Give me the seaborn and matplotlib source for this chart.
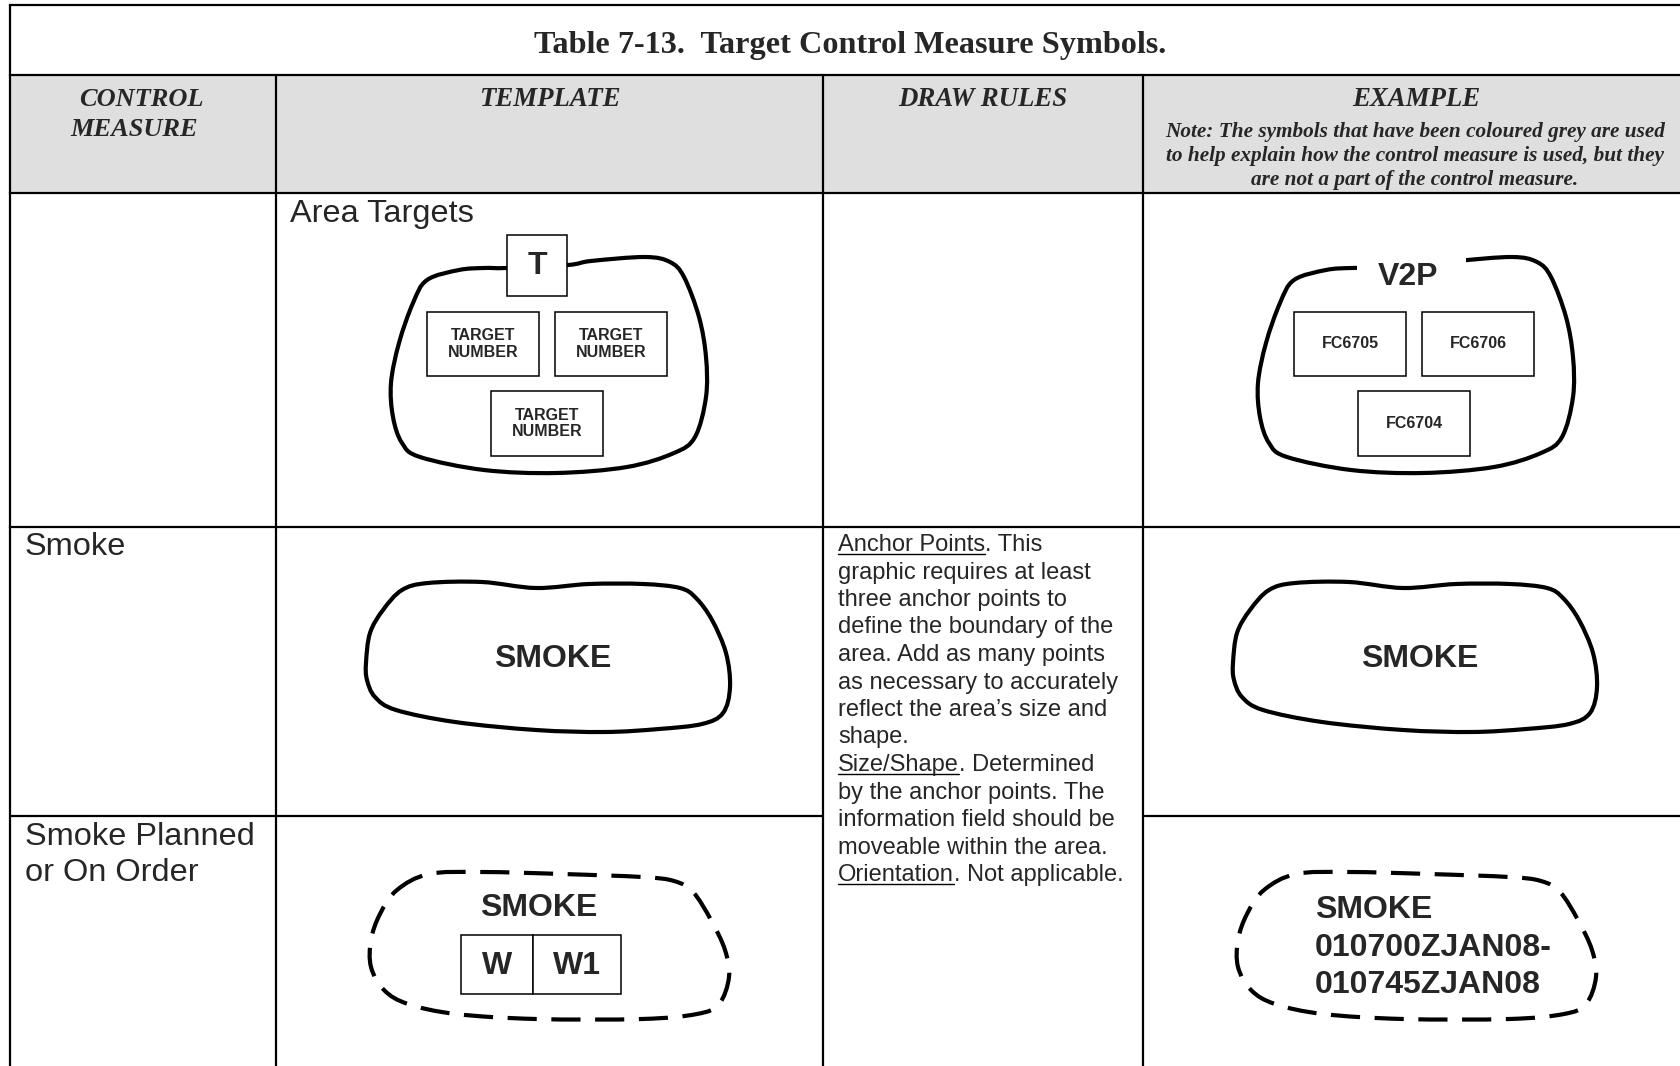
import numpy as np
import matplotlib
matplotlib.use("Agg")
import matplotlib.pyplot as plt
from matplotlib.path import Path
from matplotlib.patches import PathPatch, Rectangle
import seaborn as sns

sns.set_theme(style="white")
plt.rcParams['font.family'] = ['Liberation Sans', 'DejaVu Sans']

# ---- table text ----
title = "Table 7-13.  Target Control Measure Symbols."
header_measure = ["CONTROL", "MEASURE"]
headers = ["TEMPLATE", "DRAW RULES", "EXAMPLE"]
note_lines = ["Note: The symbols that have been coloured grey are used",
              "to help explain how the control measure is used, but they",
              "are not a part of the control measure."]
measures = ["Smoke", "Smoke Planned\nor On Order"]
area_label = "Area Targets"
template_boxes = ["TARGET\nNUMBER", "TARGET\nNUMBER", "TARGET\nNUMBER"]
example_boxes = ["FC6705", "FC6706", "FC6704"]
area_template_tag = "T"
area_example_tag = "V2P"
smoke_label = "SMOKE"
planned_fields = ["W", "W1"]
planned_example = ["SMOKE", "010700ZJAN08-", "010745ZJAN08"]
draw_rules = [
    [("Anchor Points", True), (". This", False)],
    [("graphic requires at least", False)],
    [("three anchor points to", False)],
    [("define the boundary of the", False)],
    [("area. Add as many points", False)],
    [("as necessary to accurately", False)],
    [("reflect the area\u2019s size and", False)],
    [("shape.", False)],
    [("Size/Shape", True), (". Determined", False)],
    [("by the anchor points. The", False)],
    [("information field should be", False)],
    [("moveable within the area.", False)],
    [("Orientation", True), (". Not applicable.", False)],
]

# ---- outline anchor points (template column) ----
area_outline = [(427, 280), (459, 270), (484, 268), (507, 268), (568, 265), (591, 261),
                (645, 257), (670, 262), (684, 277), (699, 317), (706, 357), (706, 397),
                (695, 437), (674, 453), (627, 467), (556, 473), (484, 470), (420, 457),
                (402, 443), (393, 417), (391, 383), (399, 343), (413, 303)]
smoke_outline = [(366, 663), (370, 633), (383, 610), (402, 590), (428, 583), (482, 582),
                 (536, 588), (589, 584), (643, 584), (680, 588), (696, 598), (712, 620),
                 (726, 653), (730, 687), (723, 713), (702, 724), (659, 729), (605, 732),
                 (536, 730), (455, 722), (396, 710), (375, 697), (367, 680)]
planned_outline = [(397, 890), (429, 874), (482, 872), (562, 874), (642, 877), (674, 881),
                   (693, 892), (711, 920), (725, 950), (729, 977), (719, 1004), (697, 1014),
                   (642, 1019), (536, 1019), (456, 1014), (408, 1004), (384, 990), (371, 967),
                   (371, 940), (380, 914)]
EX_SHIFT = 867

COLS = [10, 275.7, 823.3, 1142.7, 1690]
ROWS = [5, 75, 193, 526.5, 816, 1070]

SERIF = 'Liberation Serif'
SANS = 'Liberation Sans'


def smooth_closed(pts, dx=0):
    P = np.asarray(pts, float) + np.array([dx, 0])
    n = len(P)
    verts = [P[0]]
    codes = [Path.MOVETO]
    for i in range(n):
        p0, p1, p2, p3 = P[i - 1], P[i], P[(i + 1) % n], P[(i + 2) % n]
        verts += [p1 + (p2 - p0) / 6, p2 - (p3 - p1) / 6, p2]
        codes += [Path.CURVE4] * 3
    return Path(verts, codes)


def outline(ax, pts, dx=0, dashed=False):
    ls = (0, (7.0, 3.5)) if dashed else '-'
    ax.add_patch(PathPatch(smooth_closed(pts, dx), facecolor='none', edgecolor='black',
                           lw=3.0, ls=ls, capstyle='butt', joinstyle='round', zorder=2))


def box(ax, x0, y0, x1, y1, label=None, size=11.5, ty=0):
    ax.add_patch(Rectangle((x0, y0), x1 - x0, y1 - y0, facecolor='white',
                           edgecolor='black', lw=1.1, zorder=3))
    if label:
        ax.text((x0 + x1) / 2, (y0 + y1) / 2 + ty, label, ha='center', va='center',
                fontsize=size, fontweight='bold', family=SANS, linespacing=1.15, zorder=4)


fig = plt.figure(figsize=(16.81, 10.66), dpi=100)
ax = fig.add_axes([0, 0, 1, 1])
ax.set_xlim(0, 1681)
ax.set_ylim(1066, 0)
ax.axis('off')

# grid
ax.add_patch(Rectangle((COLS[0], ROWS[1]), COLS[-1] - COLS[0], ROWS[2] - ROWS[1],
                       facecolor='#dfdfdf', edgecolor='none', zorder=0))
lw = 1.6
for y in ROWS[:4]:
    ax.plot([COLS[0], COLS[-1]], [y, y], color='black', lw=lw, zorder=1, solid_capstyle='projecting')
ax.plot([COLS[0], COLS[2]], [ROWS[4], ROWS[4]], color='black', lw=lw, zorder=1)
ax.plot([COLS[3], COLS[-1]], [ROWS[4], ROWS[4]], color='black', lw=lw, zorder=1)
ax.plot([COLS[0], COLS[0]], [ROWS[0], ROWS[-1]], color='black', lw=lw, zorder=1)
for x in COLS[1:4]:
    ax.plot([x, x], [ROWS[1], ROWS[-1]], color='black', lw=lw, zorder=1)

# title and headers
ax.text(850, 45, title, ha='center', va='center', fontsize=23.2, fontweight='bold', family=SERIF)
ax.text(79, 99, header_measure[0], ha='left', va='center', fontsize=19,
        fontweight='bold', style='italic', family=SERIF)
ax.text(70, 130, header_measure[1], ha='left', va='center', fontsize=19,
        fontweight='bold', style='italic', family=SERIF)
for i, h in enumerate(headers):
    cx = (COLS[i + 1] + COLS[i + 2]) / 2
    ax.text(cx, 99, h, ha='center', va='center', fontsize=19.4,
            fontweight='bold', style='italic', family=SERIF)
for j, line in enumerate(note_lines):
    ax.text(1415, 132 + 24 * j, line, ha='center', va='center', fontsize=15.3,
            fontweight='bold', style='italic', family=SERIF)

# row labels
ax.text(290, 214, area_label, ha='left', va='center', fontsize=23.4, family=SANS)
ax.text(25, 547, measures[0], ha='left', va='center', fontsize=23.4, family=SANS)
ax.text(25, 855, measures[1], ha='left', va='center', fontsize=23.4, family=SANS, linespacing=1.3)

# area targets
outline(ax, area_outline)
box(ax, 507, 235, 567, 296, area_template_tag, size=23)
tb = [(427, 312, 539.5, 376), (555, 312, 667.5, 376), (491, 391, 603.5, 456)]
for (x0, y0, x1, y1), lab in zip(tb, template_boxes):
    box(ax, x0, y0, x1, y1, lab)
outline(ax, area_outline, EX_SHIFT)
ax.add_patch(Rectangle((1357, 250), 109, 45, facecolor='white', edgecolor='none', zorder=2.5))
ax.text(1408, 277, area_example_tag, ha='center', va='center', fontsize=23,
        fontweight='bold', family=SANS, zorder=4)
for (x0, y0, x1, y1), lab in zip(tb, example_boxes):
    box(ax, x0 + EX_SHIFT, y0, x1 + EX_SHIFT, y1, lab)

# smoke
outline(ax, smoke_outline)
outline(ax, smoke_outline, EX_SHIFT)
ax.text(553, 659, smoke_label, ha='center', va='center', fontsize=23, fontweight='bold', family=SANS)
ax.text(553 + EX_SHIFT, 659, smoke_label, ha='center', va='center', fontsize=23,
        fontweight='bold', family=SANS)

# smoke planned
outline(ax, planned_outline, dashed=True)
ax.text(539, 908, smoke_label, ha='center', va='center', fontsize=23, fontweight='bold', family=SANS)
box(ax, 461, 935, 533, 994, planned_fields[0], size=23, ty=2)
box(ax, 533, 935, 621, 994, planned_fields[1], size=23, ty=2)
outline(ax, planned_outline, EX_SHIFT, dashed=True)
for j, line in enumerate(planned_example):
    ax.text(1315, 910 + 37.5 * j, line, ha='left', va='center', fontsize=23,
            fontweight='bold', family=SANS)

# draw rules with underlined lead words
renderer = fig.canvas.get_renderer()
for i, pieces in enumerate(draw_rules):
    x = 838
    base = 551 + 27.5 * i
    for txt, ul in pieces:
        t = ax.text(x, base, txt, ha='left', va='baseline', fontsize=17, family=SANS)
        bb = t.get_window_extent(renderer)
        x_end = ax.transData.inverted().transform((bb.x1, bb.y0))[0]
        if ul:
            ax.plot([x, x_end], [base + 3, base + 3], color='black', lw=1.0)
        x = x_end

fig.savefig("out.png", dpi=100)
